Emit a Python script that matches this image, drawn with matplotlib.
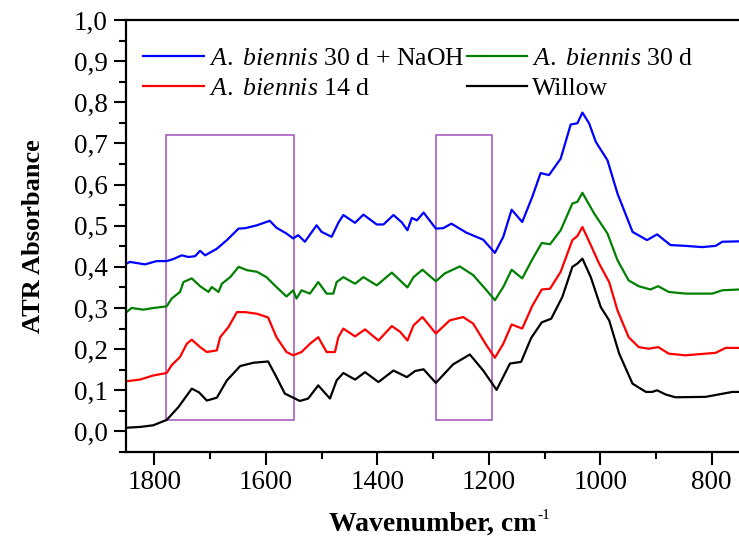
import matplotlib
matplotlib.use("Agg")
import matplotlib.pyplot as plt
from matplotlib.ticker import MultipleLocator, FuncFormatter
from matplotlib.patches import Rectangle

plt.rcParams['font.family'] = ['Liberation Serif', 'DejaVu Serif']
plt.rcParams['mathtext.fontset'] = 'custom'
plt.rcParams['mathtext.rm'] = 'Liberation Serif'
plt.rcParams['mathtext.it'] = 'Liberation Serif:italic'
plt.rcParams['mathtext.bf'] = 'Liberation Serif:bold'

# ---------------- data ----------------
wn_willow = [1850, 1825, 1802, 1778, 1757, 1733, 1720, 1706, 1688, 1670, 1646, 1622, 1596, 1581,
             1566, 1539, 1524, 1506, 1495, 1485, 1473, 1461, 1440, 1422, 1398, 1371, 1347, 1332,
             1317, 1295, 1264, 1234, 1210, 1186, 1162, 1142, 1124, 1105, 1088, 1068, 1050, 1041,
             1032, 1017, 999, 984, 966, 942, 918, 907, 898, 883, 865, 811, 787, 763, 751]
abs_willow = [0.009, 0.011, 0.015, 0.028, 0.059, 0.104, 0.095, 0.075, 0.082, 0.124, 0.159, 0.167,
              0.170, 0.132, 0.092, 0.074, 0.080, 0.112, 0.095, 0.080, 0.124, 0.142, 0.126, 0.144,
              0.120, 0.148, 0.132, 0.147, 0.151, 0.118, 0.163, 0.187, 0.148, 0.101, 0.165, 0.169,
              0.227, 0.265, 0.274, 0.327, 0.400, 0.408, 0.420, 0.375, 0.302, 0.270, 0.189, 0.116,
              0.096, 0.096, 0.100, 0.090, 0.083, 0.084, 0.090, 0.096, 0.096]

wn_ab14 = [1850, 1826, 1802, 1778, 1769, 1754, 1742, 1733, 1718, 1706, 1688, 1682, 1667, 1652,
           1637, 1616, 1596, 1581, 1563, 1551, 1536, 1521, 1506, 1491, 1476, 1470, 1461, 1440,
           1422, 1398, 1374, 1359, 1346, 1335, 1319, 1295, 1270, 1246, 1228, 1204, 1189, 1174,
           1159, 1140, 1122, 1105, 1090, 1071, 1050, 1041, 1032, 1017, 1002, 984, 969, 949, 931,
           913, 896, 877, 847, 793, 775, 751]
abs_ab14 = [0.122, 0.126, 0.136, 0.142, 0.161, 0.181, 0.213, 0.223, 0.205, 0.193, 0.197, 0.229,
            0.254, 0.290, 0.290, 0.286, 0.277, 0.229, 0.193, 0.185, 0.193, 0.213, 0.229, 0.193,
            0.193, 0.229, 0.250, 0.231, 0.248, 0.221, 0.256, 0.242, 0.221, 0.258, 0.278, 0.238,
            0.270, 0.278, 0.262, 0.209, 0.179, 0.213, 0.260, 0.250, 0.305, 0.345, 0.347, 0.388,
            0.465, 0.475, 0.497, 0.453, 0.408, 0.363, 0.294, 0.229, 0.205, 0.201, 0.205, 0.189,
            0.185, 0.191, 0.203, 0.203]

wn_ab30 = [1850, 1841, 1820, 1802, 1778, 1769, 1754, 1748, 1733, 1718, 1703, 1697, 1685, 1679,
           1664, 1649, 1634, 1616, 1599, 1581, 1563, 1551, 1545, 1536, 1521, 1506, 1491, 1479,
           1473, 1461, 1440, 1425, 1401, 1374, 1346, 1335, 1319, 1295, 1279, 1252, 1228, 1204,
           1189, 1174, 1159, 1140, 1122, 1105, 1090, 1071, 1050, 1041, 1032, 1011, 987, 969, 949,
           931, 910, 896, 877, 847, 799, 781, 751]
abs_ab30 = [0.290, 0.300, 0.296, 0.300, 0.304, 0.323, 0.339, 0.363, 0.372, 0.353, 0.339, 0.351,
            0.339, 0.359, 0.375, 0.400, 0.392, 0.388, 0.375, 0.351, 0.328, 0.343, 0.323, 0.343,
            0.335, 0.363, 0.335, 0.335, 0.363, 0.375, 0.359, 0.375, 0.355, 0.386, 0.350, 0.375,
            0.393, 0.365, 0.384, 0.401, 0.380, 0.343, 0.319, 0.351, 0.393, 0.372, 0.418, 0.458,
            0.455, 0.489, 0.554, 0.558, 0.580, 0.530, 0.481, 0.416, 0.367, 0.353, 0.345, 0.353,
            0.339, 0.335, 0.335, 0.343, 0.345]

wn_naoh = [1850, 1844, 1817, 1796, 1778, 1766, 1751, 1739, 1727, 1718, 1709, 1688, 1670, 1649,
           1637, 1616, 1593, 1581, 1563, 1551, 1542, 1530, 1509, 1500, 1482, 1470, 1461, 1440,
           1425, 1401, 1389, 1371, 1356, 1346, 1338, 1329, 1317, 1295, 1282, 1267, 1240, 1210,
           1189, 1174, 1159, 1140, 1122, 1107, 1092, 1071, 1053, 1041, 1032, 1020, 1008, 987, 969,
           942, 916, 898, 874, 847, 817, 793, 781, 751]
abs_naoh = [0.408, 0.412, 0.406, 0.414, 0.414, 0.419, 0.428, 0.424, 0.426, 0.439, 0.428, 0.444,
            0.465, 0.493, 0.494, 0.501, 0.512, 0.495, 0.481, 0.469, 0.477, 0.461, 0.501, 0.485,
            0.473, 0.507, 0.526, 0.507, 0.527, 0.503, 0.503, 0.526, 0.508, 0.489, 0.519, 0.513,
            0.532, 0.493, 0.494, 0.505, 0.483, 0.466, 0.434, 0.473, 0.539, 0.509, 0.570, 0.628,
            0.623, 0.663, 0.746, 0.749, 0.775, 0.749, 0.704, 0.659, 0.578, 0.485, 0.465, 0.479,
            0.453, 0.451, 0.448, 0.451, 0.461, 0.462]

labels = [r"$\mathit{A.}$ $\mathit{biennis}$ 30 d + NaOH", r"$\mathit{A.}$ $\mathit{biennis}$ 14 d",
          r"$\mathit{A.}$ $\mathit{biennis}$ 30 d", "Willow"]
colors = ["#0000FF", "#FF0000", "#008000", "#000000"]

# marked regions (wavenumber ranges) and their vertical extent
boxes = [(1780, 1550), (1295, 1195)]
box_y = (0.027, 0.72)

# ---------------- figure ----------------
W, H = 739, 538
fig = plt.figure(figsize=(W / 100, H / 100), dpi=100)
ax = fig.add_axes([126/W, 1 - 452/H, 1 - 126/W, (452 - 20)/H])

series = [(wn_naoh, abs_naoh), (wn_ab14, abs_ab14), (wn_ab30, abs_ab30), (wn_willow, abs_willow)]
for (x, y), lab, c in zip(series, labels, colors):
    ax.plot(x, y, color=c, lw=1.6, label=lab)

for (a, b) in boxes:
    ax.add_patch(Rectangle((b, box_y[0]), a - b, box_y[1] - box_y[0], fill=False,
                           edgecolor="#A050B8", lw=1.1, zorder=1))

ax.set_xlim(1851, 751)
ax.set_ylim(-0.05, 1.0)
ax.xaxis.set_major_locator(MultipleLocator(200))
ax.xaxis.set_minor_locator(MultipleLocator(100))
ax.yaxis.set_major_locator(MultipleLocator(0.1))
ax.yaxis.set_minor_locator(MultipleLocator(0.05))
ax.yaxis.set_major_formatter(FuncFormatter(lambda v, p: f"{v:.1f}".replace('.', ',')))

ax.tick_params(which='major', direction='out', length=9, width=1.5, labelsize=19.5, pad=4)
ax.tick_params(which='minor', direction='out', length=5, width=1.5)
ax.tick_params(top=False, right=False)
for s in ['left', 'bottom', 'top']:
    ax.spines[s].set_linewidth(1.6)
ax.spines['right'].set_visible(False)

xl = ax.set_xlabel("Wavenumber, cm", fontsize=20, fontweight='bold', labelpad=12)
ax.set_ylabel("ATR Absorbance", fontsize=19, fontweight='bold', labelpad=21)

ax.legend(loc='upper left', bbox_to_anchor=(0.028, 0.937), ncol=2, frameon=False, fontsize=18.5,
          handlelength=2.35, handletextpad=0.2, columnspacing=0.1, labelspacing=0.25,
          borderpad=0, borderaxespad=0)

# small superscript "-1" after the x label
fig.canvas.draw()
bb = xl.get_window_extent()
fig.text((bb.x1 + 1) / W, (bb.y1 + 3) / H, "-1", fontsize=11, ha='left', va='top')

fig.savefig("out.png", dpi=100)
